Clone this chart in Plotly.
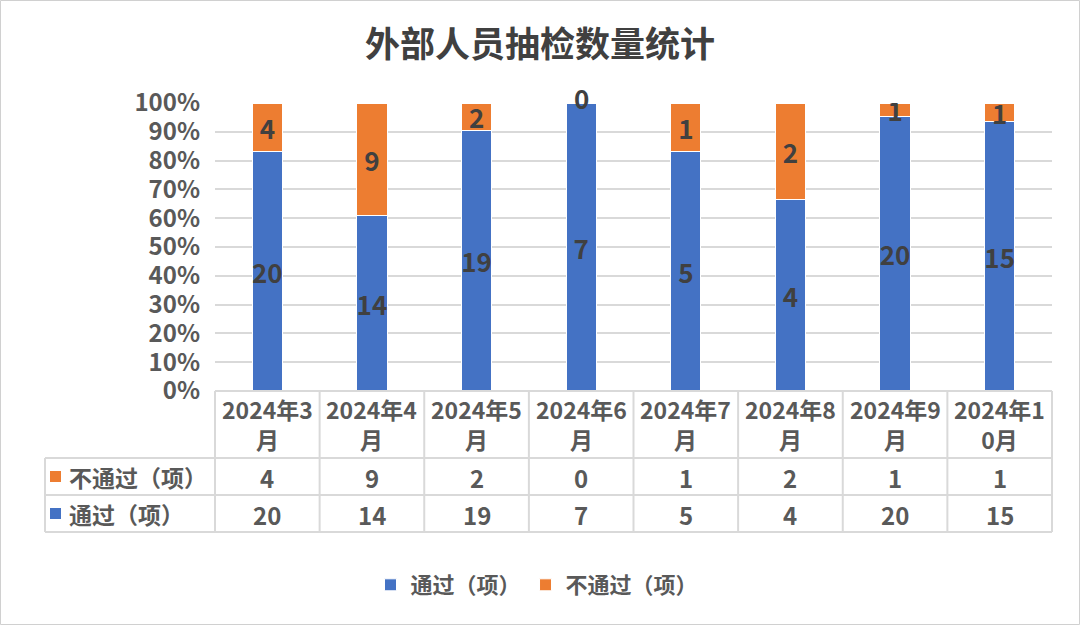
import plotly.graph_objects as go

# chart data
months = ["2024年3月", "2024年4月", "2024年5月", "2024年6月",
          "2024年7月", "2024年8月", "2024年9月", "2024年10月"]
passed = [20, 14, 19, 7, 5, 4, 20, 15]
failed = [4, 9, 2, 0, 1, 2, 1, 1]
series_names = ["通过（项）", "不通过（项）"]

BLUE = "#4472C4"
ORANGE = "#ED7D31"
TXT = "#404040"
GRAY = "#595959"
LINE = "#D9D9D9"
FONT = "Noto Sans CJK SC, Noto Sans, sans-serif"

W, H = 1080, 625
ML, MR, MT, MB = 215, 28, 103, 234
PW = W - ML - MR
PH = H - MT - MB


def py(p):
    # pixel row -> paper y
    return (H - MB - p) / PH


def px(p):
    return (p - ML) / PW


fig = go.Figure()
for name, vals, col in [(series_names[0], passed, BLUE), (series_names[1], failed, ORANGE)]:
    fig.add_trace(go.Bar(
        x=months, y=vals, name=name, text=[str(v) if v else "" for v in vals],
        marker=dict(color=col, line=dict(color="white", width=1)),
        textposition="inside", insidetextanchor="middle", constraintext="none",
        textangle=0,
        textfont=dict(size=26, color=TXT, family=FONT, weight="bold"),
        hoverinfo="y+name",
    ))

ann = []
# zero-height segments get their label on top of the stack
for m, p, f in zip(months, passed, failed):
    if f == 0:
        ann.append(dict(x=m, xref="x", y=100, yref="y", yanchor="middle", yshift=6,
                        text=str(f), showarrow=False,
                        font=dict(size=26, color=TXT, family=FONT, weight="bold")))

shapes = []
# table lines
n = len(months)
for k in range(n + 1):
    shapes.append(dict(type="line", xref="paper", yref="paper", x0=k / n, x1=k / n,
                       y0=py(391), y1=py(532), line=dict(color=LINE, width=2)))
shapes.append(dict(type="line", xref="paper", yref="paper", x0=0, x1=1,
                   y0=py(391), y1=py(391), line=dict(color=LINE, width=2)))
for r in [458, 495, 532]:
    shapes.append(dict(type="line", xref="paper", yref="paper", x0=px(45), x1=1,
                       y0=py(r), y1=py(r), line=dict(color=LINE, width=2)))
shapes.append(dict(type="line", xref="paper", yref="paper", x0=px(45), x1=px(45),
                   y0=py(458), y1=py(532), line=dict(color=LINE, width=2)))
# outer frame
shapes.append(dict(type="rect", xref="paper", yref="paper", x0=px(0.5), x1=px(W - 0.5),
                   y0=py(H - 0.5), y1=py(0.5), line=dict(color="#D0D0D0", width=1)))

for m in months:
    ann.append(dict(x=m, xref="x", y=py(424), yref="paper", yanchor="middle",
                    text=m[:6] + "<br>" + m[6:], showarrow=False,
                    font=dict(size=23, color=GRAY, family=FONT, weight="bold")))
rows = [(series_names[1], failed, ORANGE, 477), (series_names[0], passed, BLUE, 514)]
for name, vals, col, yp in rows:
    shapes.append(dict(type="rect", xref="paper", yref="paper", x0=px(50), x1=px(61),
                       y0=py(yp + 5), y1=py(yp - 6), fillcolor=col, line=dict(width=0)))
    ann.append(dict(x=px(67), xref="paper", xanchor="left", y=py(yp), yref="paper",
                    yanchor="middle", text=name, showarrow=False,
                    font=dict(size=23, color=GRAY, family=FONT, weight="bold")))
    for m, v in zip(months, vals):
        ann.append(dict(x=m, xref="x", y=py(yp), yref="paper", yanchor="middle",
                        text=str(v), showarrow=False,
                        font=dict(size=24, color=GRAY, family=FONT, weight="bold")))

fig.update_layout(
    width=W, height=H,
    margin=dict(l=ML, r=MR, t=MT, b=MB),
    paper_bgcolor="white", plot_bgcolor="white",
    barmode="stack", barnorm="percent", bargap=0.71,
    title=dict(text="外部人员抽检数量统计", x=0.5, xanchor="center", y=1 - 45 / H, yanchor="middle",
               font=dict(size=35, color=TXT, family=FONT, weight="bold")),
    xaxis=dict(showticklabels=False, showgrid=False, zeroline=False, showline=False,
               range=[-0.5, n - 0.5], fixedrange=True),
    yaxis=dict(range=[0, 100], dtick=10, ticksuffix="%", showgrid=True, gridcolor=LINE,
               gridwidth=2, zeroline=False, showline=False, ticks="", ticklabelstandoff=14,
               tickfont=dict(size=24, color=GRAY, family=FONT, weight="bold")),
    legend=dict(orientation="h", x=px(537), xref="paper", xanchor="center",
                y=py(585), yanchor="middle",
                font=dict(size=22, color=GRAY, family=FONT, weight="bold"),
                traceorder="normal", itemwidth=30),
    shapes=shapes, annotations=ann,
    showlegend=True,
)

fig.write_html("out.html", config={"displayModeBar": False},
               post_script="document.body.style.margin='0';")
